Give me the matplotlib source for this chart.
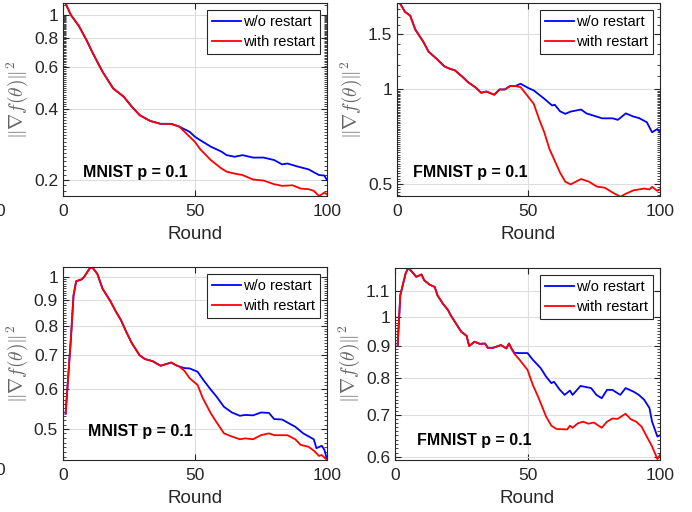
import numpy as np
import matplotlib
matplotlib.use("Agg")
import matplotlib.pyplot as plt
from matplotlib.ticker import FixedLocator, NullFormatter, LogLocator

plt.rcParams['font.family'] = ['Liberation Sans', 'DejaVu Sans']
plt.rcParams['mathtext.fontset'] = 'cm'

# ---- MNIST (top left) ----
mn1_common_x = [1, 3, 6, 9, 11, 13, 15, 19, 23, 26, 29, 33, 37, 41, 44]
mn1_common_y = [1.12, 1.0, 0.90, 0.78, 0.70, 0.634, 0.575, 0.489, 0.451, 0.41, 0.377, 0.356, 0.346, 0.346, 0.337]
mn1_blue_x = [48, 50, 52, 56, 60, 62, 65, 68, 72, 76, 80, 83, 85, 89, 93, 97, 99, 100]
mn1_blue_y = [0.320, 0.305, 0.295, 0.277, 0.264, 0.255, 0.251, 0.255, 0.249, 0.249, 0.243, 0.233, 0.235, 0.228, 0.222, 0.210, 0.209, 0.200]
mn1_red_x = [48, 50, 52, 56, 60, 62, 65, 68, 72, 76, 80, 83, 87, 90, 93, 95, 97, 99, 100]
mn1_red_y = [0.305, 0.290, 0.270, 0.243, 0.224, 0.217, 0.213, 0.210, 0.201, 0.199, 0.192, 0.189, 0.190, 0.184, 0.183, 0.180, 0.171, 0.177, 0.174]

# ---- FMNIST (top right) ----
fm1_common_x = [1, 3, 5, 7, 10, 12, 15, 18, 20, 22, 25, 27, 30, 32, 34, 37, 39, 41, 43, 45]
fm1_common_y = [1.89, 1.77, 1.72, 1.55, 1.42, 1.32, 1.254, 1.185, 1.165, 1.151, 1.095, 1.055, 1.013, 0.976, 0.985, 0.962, 1.0, 1.0, 1.025, 1.025]
fm1_blue_x = [47, 50, 52, 56, 59, 60, 62, 64, 66, 70, 72, 76, 78, 82, 84, 87, 90, 92, 95, 97, 98, 99, 100]
fm1_blue_y = [1.043, 1.01, 0.993, 0.934, 0.889, 0.894, 0.852, 0.836, 0.850, 0.863, 0.839, 0.819, 0.809, 0.809, 0.800, 0.839, 0.819, 0.811, 0.786, 0.730, 0.739, 0.748, 0.730]
fm1_red_x = [47, 49, 52, 54, 56, 58, 60, 62, 64, 66, 68, 70, 73, 76, 79, 82, 85, 87, 90, 94, 96, 97, 99, 100]
fm1_red_y = [1.017, 0.969, 0.900, 0.806, 0.730, 0.645, 0.592, 0.543, 0.508, 0.498, 0.508, 0.518, 0.508, 0.490, 0.486, 0.469, 0.455, 0.465, 0.477, 0.483, 0.480, 0.489, 0.475, 0.480]

# ---- MNIST (bottom left) ----
mn2_common_x = [1, 3, 4, 5, 7, 8, 10, 11, 13, 15, 18, 20, 22, 24, 26, 29, 31, 34, 37, 39, 41, 43, 44]
mn2_common_y = [0.536, 0.755, 0.92, 0.981, 0.989, 1.0, 1.038, 1.047, 1.015, 0.948, 0.895, 0.855, 0.821, 0.778, 0.741, 0.700, 0.688, 0.681, 0.667, 0.672, 0.677, 0.668, 0.665]
mn2_blue_x = [46, 48, 51, 53, 56, 58, 61, 64, 67, 69, 72, 75, 78, 80, 83, 85, 88, 91, 95, 96, 98, 99, 100]
mn2_blue_y = [0.660, 0.659, 0.649, 0.627, 0.598, 0.581, 0.553, 0.539, 0.531, 0.533, 0.532, 0.539, 0.538, 0.523, 0.522, 0.515, 0.505, 0.490, 0.477, 0.458, 0.463, 0.455, 0.435]
mn2_red_x = [46, 48, 51, 53, 56, 58, 61, 64, 67, 69, 72, 75, 78, 80, 83, 85, 88, 90, 93, 95, 97, 98, 100]
mn2_red_y = [0.652, 0.630, 0.611, 0.575, 0.537, 0.517, 0.490, 0.483, 0.477, 0.479, 0.477, 0.486, 0.490, 0.486, 0.486, 0.486, 0.477, 0.465, 0.461, 0.453, 0.442, 0.444, 0.434]

# ---- FMNIST (bottom right) ----
fm2_common_x = [1, 2, 4, 5, 7, 8, 10, 11, 13, 15, 16, 18, 20, 21, 23, 25, 27, 28, 30, 32, 34, 35, 37, 40, 42, 43, 44]
fm2_common_y = [0.901, 1.083, 1.172, 1.197, 1.172, 1.158, 1.168, 1.144, 1.126, 1.116, 1.083, 1.051, 1.026, 1.007, 0.977, 0.948, 0.934, 0.900, 0.914, 0.907, 0.908, 0.894, 0.894, 0.903, 0.892, 0.908, 0.891]
fm2_blue_x = [45, 47, 50, 52, 55, 57, 59, 60, 62, 64, 66, 67, 70, 74, 76, 78, 80, 82, 85, 87, 90, 92, 94, 96, 97, 99, 100]
fm2_blue_y = [0.878, 0.877, 0.877, 0.856, 0.830, 0.805, 0.786, 0.79, 0.769, 0.753, 0.765, 0.753, 0.778, 0.772, 0.753, 0.744, 0.767, 0.767, 0.753, 0.772, 0.762, 0.753, 0.740, 0.718, 0.683, 0.647, 0.650]
fm2_red_x = [45, 47, 50, 52, 54, 56, 57, 59, 61, 65, 66, 67, 69, 71, 73, 75, 78, 80, 82, 84, 87, 89, 91, 93, 95, 97, 99, 100]
fm2_red_y = [0.875, 0.856, 0.825, 0.781, 0.748, 0.713, 0.696, 0.673, 0.665, 0.664, 0.673, 0.668, 0.679, 0.683, 0.678, 0.681, 0.668, 0.683, 0.691, 0.690, 0.703, 0.689, 0.683, 0.671, 0.647, 0.624, 0.596, 0.605]

panels = [
    # (common x, common y, blue x, blue y, red x, red y, ylim, yticks, tick labels, title, axes rect, text pos)
    (mn1_common_x, mn1_common_y, mn1_blue_x, mn1_blue_y, mn1_red_x, mn1_red_y,
     (0.171, 1.124), [0.2, 0.4, 0.6, 0.8, 1], ['0.2', '0.4', '0.6', '0.8', '1'],
     'MNIST p = 0.1', [0.091, 0.617, 0.3815, 0.377], (0.076, 0.124)),
    (fm1_common_x, fm1_common_y, fm1_blue_x, fm1_blue_y, fm1_red_x, fm1_red_y,
     (0.457, 1.886), [0.5, 1, 1.5], ['0.5', '1', '1.5'],
     'FMNIST p = 0.1', [0.5737, 0.617, 0.380, 0.377], (0.061, 0.124)),
    (mn2_common_x, mn2_common_y, mn2_blue_x, mn2_blue_y, mn2_red_x, mn2_red_y,
     (0.434, 1.047), [0.5, 0.6, 0.7, 0.8, 0.9, 1], ['0.5', '0.6', '0.7', '0.8', '0.9', '1'],
     'MNIST p = 0.1', [0.091, 0.1016, 0.3815, 0.377], (0.095, 0.145)),
    (fm2_common_x, fm2_common_y, fm2_blue_x, fm2_blue_y, fm2_red_x, fm2_red_y,
     (0.594, 1.196), [0.6, 0.7, 0.8, 0.9, 1, 1.1], ['0.6', '0.7', '0.8', '0.9', '1', '1.1'],
     'FMNIST p = 0.1', [0.5708, 0.1016, 0.383, 0.375], (0.083, 0.104)),
]

dark = (0.15, 0.15, 0.15)
fig = plt.figure(figsize=(6.92, 5.12), dpi=100)

for cx, cy, bx, by, rx, ry, ylim, yt, ytl, name, rect, tpos in panels:
    ax = fig.add_axes(rect)
    ax.set_yscale('log')
    ax.plot(cx + bx, cy + by, color=(0, 0, 1), lw=1.3, label='w/o restart')
    ax.plot(cx + rx, cy + ry, color=(1, 0, 0), lw=1.3, label='with restart')
    ax.set_xlim(0, 100)
    ax.set_ylim(*ylim)
    ax.set_xticks([0, 50, 100])
    ax.yaxis.set_major_locator(FixedLocator(yt))
    ax.set_yticklabels(ytl)
    ax.yaxis.set_minor_locator(LogLocator(base=10, subs=np.arange(10, 100) / 10.0, numticks=200))
    ax.yaxis.set_minor_formatter(NullFormatter())
    ax.grid(True, which='major', color='#dedede', lw=0.8)
    ax.set_axisbelow(True)
    ax.tick_params(which='both', direction='in', top=True, right=True,
                   colors=dark, labelsize=12.5, labelcolor=dark)
    ax.tick_params(axis='x', which='major', pad=6)
    ax.tick_params(which='major', length=4)
    ax.tick_params(which='minor', length=2)
    for s in ax.spines.values():
        s.set_color(dark)
        s.set_linewidth(0.8)
    ax.set_xlabel('Round', fontsize=13.5, color=dark, labelpad=5)
    ax.set_ylabel(r'$\|\nabla f(\theta)\|^2$', fontsize=14, color=(0.4, 0.4, 0.4))
    ax.yaxis.set_label_coords(-33.0 / (rect[2] * 692), 0.5)
    ax.text(tpos[0], tpos[1], name, transform=ax.transAxes, fontsize=11.5,
            fontweight='bold', va='center', ha='left', color='black')
    leg = ax.legend(loc='upper right', fontsize=10.5, fancybox=False, framealpha=1,
                    edgecolor=dark, handlelength=2.0, handletextpad=0.1,
                    borderpad=0.35, labelspacing=0.4, borderaxespad=0.5)
    leg.get_frame().set_linewidth(0.8)

# clipped tick labels from the neighbouring figure at the left edge
fig.text(-0.006, 0.586, '0', fontsize=12.5, color=dark, ha='left', va='center')
fig.text(-0.006, 0.082, '0', fontsize=12.5, color=dark, ha='left', va='center')

fig.savefig('out.png', dpi=100)
